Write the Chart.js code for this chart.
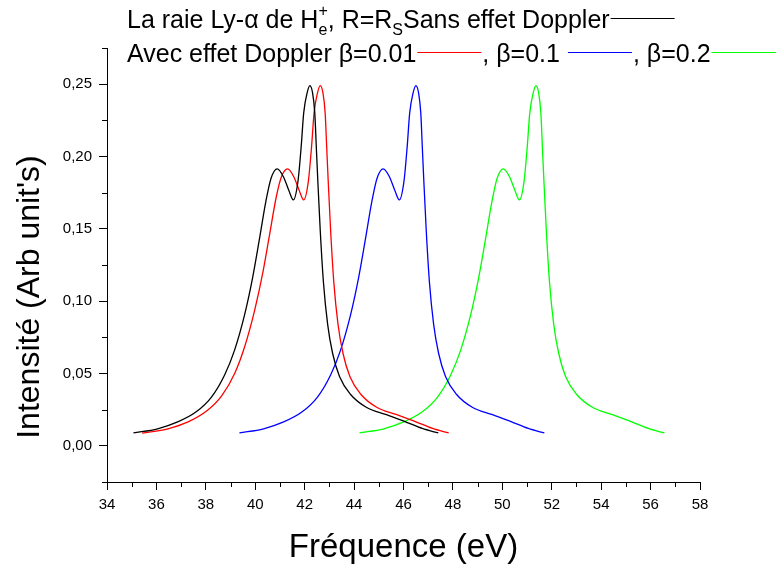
<!DOCTYPE html>
<html>
<head>
<meta charset="utf-8">
<script src="https://cdn.jsdelivr.net/npm/chart.js@4.4.1/dist/chart.umd.min.js"></script>
<style>
  html, body { margin: 0; padding: 0; background: #fff; }
</style>
</head>
<body>
<canvas id="chart" width="776" height="574"></canvas>
<script>
// values
const blackX = [35.07, 36.05, 36.86, 37.61, 38.22, 38.76, 39.16, 39.56, 39.89, 40.16, 40.43, 40.64, 40.89, 41.14, 41.36, 41.54, 41.73, 41.86, 41.96, 42.10, 42.21, 42.32, 42.41, 42.47, 42.53, 42.63, 42.76, 42.93, 43.13, 43.41, 43.86, 44.51, 45.31, 46.06, 46.76, 47.41];
const blackY = [0.0090, 0.0118, 0.0165, 0.0235, 0.0335, 0.0490, 0.0660, 0.0900, 0.1160, 0.1420, 0.1690, 0.1850, 0.1915, 0.1860, 0.1765, 0.1700, 0.1830, 0.2070, 0.2300, 0.2440, 0.2490, 0.2440, 0.2300, 0.2070, 0.1840, 0.1490, 0.1130, 0.0840, 0.0640, 0.0480, 0.0355, 0.0265, 0.0215, 0.0168, 0.0120, 0.0089];

const redX = [35.42, 36.47, 37.28, 38.03, 38.64, 39.18, 39.58, 39.98, 40.31, 40.58, 40.85, 41.06, 41.31, 41.56, 41.78, 41.96, 42.15, 42.28, 42.38, 42.52, 42.63, 42.74, 42.83, 42.89, 42.95, 43.05, 43.18, 43.35, 43.55, 43.83, 44.28, 44.93, 45.73, 46.48, 47.18, 47.83];
const redY = [0.0088, 0.0118, 0.0165, 0.0240, 0.0345, 0.0505, 0.0690, 0.0940, 0.1200, 0.1460, 0.1720, 0.1860, 0.1915, 0.1860, 0.1765, 0.1700, 0.1830, 0.2070, 0.2300, 0.2440, 0.2490, 0.2440, 0.2300, 0.2070, 0.1840, 0.1490, 0.1130, 0.0840, 0.0640, 0.0480, 0.0355, 0.0265, 0.0215, 0.0168, 0.0120, 0.0089];

const blueX = [39.36, 40.34, 41.15, 41.90, 42.51, 43.05, 43.45, 43.85, 44.18, 44.45, 44.72, 44.93, 45.18, 45.43, 45.65, 45.83, 46.02, 46.15, 46.25, 46.39, 46.50, 46.61, 46.70, 46.76, 46.82, 46.92, 47.05, 47.22, 47.42, 47.70, 48.15, 48.80, 49.60, 50.35, 51.05, 51.70];
const blueY = [0.0090, 0.0118, 0.0165, 0.0235, 0.0335, 0.0490, 0.0660, 0.0900, 0.1160, 0.1420, 0.1690, 0.1850, 0.1915, 0.1860, 0.1765, 0.1700, 0.1830, 0.2070, 0.2300, 0.2440, 0.2490, 0.2440, 0.2300, 0.2070, 0.1840, 0.1490, 0.1130, 0.0840, 0.0640, 0.0480, 0.0355, 0.0265, 0.0215, 0.0168, 0.0120, 0.0089];

const greenX = [44.22, 45.20, 46.01, 46.76, 47.37, 47.91, 48.31, 48.71, 49.04, 49.31, 49.58, 49.79, 50.04, 50.29, 50.51, 50.69, 50.88, 51.01, 51.11, 51.25, 51.36, 51.47, 51.56, 51.62, 51.68, 51.78, 51.91, 52.08, 52.28, 52.56, 53.01, 53.66, 54.46, 55.21, 55.91, 56.56];
const greenY = [0.0090, 0.0118, 0.0165, 0.0235, 0.0335, 0.0490, 0.0660, 0.0900, 0.1160, 0.1420, 0.1690, 0.1850, 0.1915, 0.1860, 0.1765, 0.1700, 0.1830, 0.2070, 0.2300, 0.2440, 0.2490, 0.2440, 0.2300, 0.2070, 0.1840, 0.1490, 0.1130, 0.0840, 0.0640, 0.0480, 0.0355, 0.0265, 0.0215, 0.0168, 0.0120, 0.0089];

const xMajorTicks = [34, 36, 38, 40, 42, 44, 46, 48, 50, 52, 54, 56, 58];
const xMinorTicks = [35, 37, 39, 41, 43, 45, 47, 49, 51, 53, 55, 57];
const yMajorTicks = [0, 0.05, 0.10, 0.15, 0.20, 0.25];
const yMinorTicks = [-0.025, 0.025, 0.075, 0.125, 0.175, 0.225, 0.275];

const FONT = '"Liberation Sans", Arial, sans-serif';

function toPoints(xs, ys) {
  return xs.map((x, i) => ({ x: x, y: ys[i] }));
}

function series(xs, ys, color) {
  return {
    data: toPoints(xs, ys),
    borderColor: color,
    borderWidth: 1.3,
    pointRadius: 0,
    fill: false,
    cubicInterpolationMode: 'monotone'
  };
}

// minor ticks, axis titles and the two-line legend
const decorations = {
  id: 'decorations',
  afterDraw(chart) {
    const ctx = chart.ctx;
    const xs = chart.scales.x, ys = chart.scales.y;
    const area = chart.chartArea;
    ctx.save();
    ctx.strokeStyle = '#000';
    ctx.lineWidth = 1;
    ctx.beginPath();
    xMinorTicks.forEach(v => {
      const px = Math.round(xs.getPixelForValue(v)) + 0.5;
      ctx.moveTo(px, area.bottom);
      ctx.lineTo(px, area.bottom + 5);
    });
    yMinorTicks.forEach(v => {
      const py = Math.round(ys.getPixelForValue(v)) + 0.5;
      ctx.moveTo(area.left, py);
      ctx.lineTo(area.left - 5, py);
    });
    ctx.stroke();

    ctx.fillStyle = '#000';
    ctx.textAlign = 'center';
    ctx.textBaseline = 'middle';
    ctx.font = '33px ' + FONT;
    ctx.fillText('Fréquence (eV)', (area.left + area.right) / 2, 548);
    ctx.save();
    ctx.translate(30, 297);
    ctx.rotate(-Math.PI / 2);
    ctx.font = '32px ' + FONT;
    ctx.fillText("Intensité (Arb unit's)", 0, 0);
    ctx.restore();

    // legend
    const big = '25px ' + FONT, small = '16px ' + FONT;
    ctx.textAlign = 'left';
    ctx.textBaseline = 'alphabetic';
    let x = 127, y = 28;
    const put = (s, font, dy) => {
      ctx.font = font;
      ctx.fillText(s, x, y + dy);
      return ctx.measureText(s).width;
    };
    const sample = (color, len) => {
      ctx.strokeStyle = color;
      ctx.lineWidth = 1.2;
      ctx.beginPath();
      ctx.moveTo(x + 1, y - 9.5);
      ctx.lineTo(x + 1 + len, y - 9.5);
      ctx.stroke();
      x += len + 2;
    };
    x += put('La raie Ly-α de H', big, 0);
    const we = put('e', small, 7);
    const wp = put('+', small, -12);
    x += Math.max(we, wp);
    x += put(', R=R', big, 0);
    x += put('S', small, 7);
    x += put('Sans effet Doppler', big, 0);
    sample('#000000', 64);

    x = 127; y = 62;
    x += put('Avec effet Doppler β=0.01', big, 0);
    sample('#ff0000', 64);
    x += put(', β=0.1 ', big, 0);
    sample('#0000ff', 64);
    x += put(', β=0.2', big, 0);
    sample('#00ff00', 80);
    ctx.restore();
  }
};

new Chart(document.getElementById('chart'), {
  type: 'line',
  data: {
    datasets: [
      series(blackX, blackY, '#000000'),
      series(redX, redY, '#ff0000'),
      series(blueX, blueY, '#0000ff'),
      series(greenX, greenY, '#00ff00')
    ]
  },
  options: {
    responsive: false,
    animation: false,
    devicePixelRatio: 1,
    layout: { padding: { top: 48, right: 76, left: 0, bottom: 0 } },
    plugins: { legend: { display: false }, tooltip: { enabled: false } },
    scales: {
      x: {
        type: 'linear',
        min: 34,
        max: 58,
        afterBuildTicks: s => { s.ticks = xMajorTicks.map(v => ({ value: v })); },
        afterFit: s => { s.height = 92; },
        border: { display: true, color: '#000', width: 1 },
        grid: { display: true, drawOnChartArea: false, drawTicks: true, tickLength: 8, color: '#000' },
        ticks: { color: '#000', padding: 6, font: { family: FONT, size: 15 }, maxRotation: 0, autoSkip: false }
      },
      y: {
        type: 'linear',
        min: -0.025,
        max: 0.275,
        afterBuildTicks: s => { s.ticks = yMajorTicks.map(v => ({ value: v })); },
        afterFit: s => { s.width = 107; },
        border: { display: true, color: '#000', width: 1 },
        grid: { display: true, drawOnChartArea: false, drawTicks: true, tickLength: 8, color: '#000' },
        ticks: {
          color: '#000', padding: 7, font: { family: FONT, size: 15 }, autoSkip: false,
          callback: v => v.toFixed(2).replace('.', ',')
        }
      }
    }
  },
  plugins: [decorations]
});
</script>
</body>
</html>
